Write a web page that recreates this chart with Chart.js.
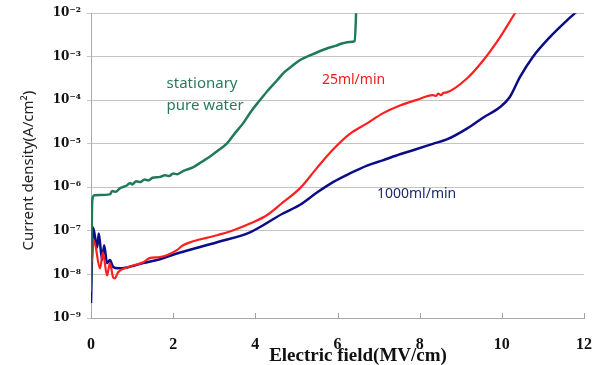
<!DOCTYPE html>
<html>
<head>
<meta charset="utf-8">
<script src="https://cdn.jsdelivr.net/npm/chart.js@4"></script>
<style>
  html, body { margin: 0; padding: 0; background: #fff; }
  #wrap { width: 608px; height: 365px; }
</style>
</head>
<body>
<div id="wrap"><canvas id="chart" width="608" height="365"></canvas></div>
<script>
// Electric field (MV/cm) vs current density (A/cm^2)
const xTicks = [0, 2, 4, 6, 8, 10, 12];
const yTicks = [1e-9, 1e-8, 1e-7, 1e-6, 1e-5, 1e-4, 1e-3, 1e-2];
const yTickLabels = ['10⁻⁹', '10⁻⁸', '10⁻⁷', '10⁻⁶', '10⁻⁵', '10⁻⁴', '10⁻³', '10⁻²'];
const xTitle = 'Electric field(MV/cm)';
const yTitle = 'Current density(A/cm²)';

const stationaryX = [0.00, 0.03, 0.08, 0.46, 0.52, 0.60, 0.70, 0.88, 0.95, 1.00, 1.10, 1.20, 1.30, 1.40, 1.50,
    1.68, 1.80, 1.90, 2.00, 2.10, 2.25, 2.48, 2.70, 2.90, 3.10, 3.31, 3.50, 3.70, 3.90, 4.11, 4.30, 4.53,
    4.70, 4.91, 5.10, 5.33, 5.55, 5.74, 5.95, 6.13, 6.30, 6.42, 6.47];
const stationaryY = [4.0e-9, 5.0e-7, 6.6e-7, 6.9e-7, 8.3e-7, 7.9e-7, 9.5e-7, 1.12e-6, 1.26e-6, 1.17e-6, 1.38e-6,
    1.32e-6, 1.51e-6, 1.45e-6, 1.66e-6, 1.74e-6, 1.91e-6, 1.82e-6, 2.09e-6, 2.0e-6, 2.4e-6, 2.88e-6, 3.89e-6,
    5.13e-6, 7.08e-6, 1.02e-5, 1.74e-5, 2.95e-5, 5.62e-5, 1.0e-4, 1.66e-4, 2.88e-4, 4.37e-4, 6.31e-4, 8.51e-4,
    1.07e-3, 1.32e-3, 1.55e-3, 1.78e-3, 2.04e-3, 2.19e-3, 2.29e-3, 3.16e-2];

const flow25X = [0.02, 0.07, 0.22, 0.29, 0.39, 0.46, 0.54, 0.58, 0.66, 0.88, 1.27, 1.44, 1.68, 2.09, 2.24, 3.07,
    3.45, 3.87, 4.28, 4.67, 5.09, 5.50, 5.89, 6.30, 6.72, 7.10, 7.52, 7.93, 8.32, 8.40, 8.45, 8.52, 8.58, 8.66,
    9.15, 9.54, 9.95, 10.32, 10.6];
const flow25Y = [2.0e-8, 6.0e-8, 1.38e-8, 3.24e-8, 9.5e-9, 1.82e-8, 8.5e-9, 8.1e-9, 1.12e-8, 1.45e-8, 1.91e-8,
    2.4e-8, 2.51e-8, 3.63e-8, 4.68e-8, 7.94e-8, 1.02e-7, 1.48e-7, 2.29e-7, 4.5e-7, 9.6e-7, 2.8e-6, 7.4e-6,
    1.7e-5, 2.95e-5, 5.01e-5, 7.59e-5, 1.02e-4, 1.32e-4, 1.26e-4, 1.42e-4, 1.32e-4, 1.48e-4, 1.52e-4, 3.16e-4,
    8.1e-4, 2.75e-3, 1.0e-2, 2.5e-2];

const flow1000X = [0.00, 0.05, 0.15, 0.19, 0.27, 0.32, 0.39, 0.46, 0.54, 0.66, 0.88, 1.27, 1.68, 2.09, 3.07,
    3.87, 4.67, 5.09, 5.50, 5.89, 6.30, 6.72, 7.10, 7.52, 7.93, 8.32, 8.66, 9.15, 9.54, 9.95, 10.19, 10.44,
    10.75, 11.17, 11.58, 11.78, 12.0];
const flow1000Y = [2.2e-9, 1.2e-7, 4.17e-8, 8.7e-8, 2.14e-8, 4.68e-8, 1.82e-8, 2.14e-8, 1.48e-8, 1.38e-8,
    1.45e-8, 1.82e-8, 2.24e-8, 3.02e-8, 5.5e-8, 9.3e-8, 2.51e-7, 3.98e-7, 7.6e-7, 1.32e-6, 2.09e-6, 3.16e-6,
    4.17e-6, 5.75e-6, 7.59e-6, 1.0e-5, 1.26e-5, 2.24e-5, 3.98e-5, 6.92e-5, 1.17e-4, 3.39e-4, 9.77e-4, 2.82e-3,
    6.76e-3, 1.0e-2, 1.58e-2];

const seriesLabels = ['stationary', 'pure water', '25ml/min', '1000ml/min'];
const seriesColors = { stationary: '#1f7a58', flow25: '#ff1f1f', flow1000: '#0c0c86' };

function toPoints(xs, ys) {
    return xs.map((x, i) => ({ x: x, y: ys[i] }));
}

// curve labels, placed in data space
const curveNotes = [
    { text: seriesLabels[0], x: 1.84, y: 2.45e-4, color: '#2a7a5c', size: 15 },
    { text: seriesLabels[1], x: 1.84, y: 7.6e-5, color: '#2a7a5c', size: 15 },
    { text: seriesLabels[2], x: 5.62, y: 2.9e-4, color: '#f01c1c', size: 14 },
    { text: seriesLabels[3], x: 6.96, y: 7.2e-7, color: '#1c2a6e', size: 14 },
];

const notesPlugin = {
    id: 'notes',
    afterDatasetsDraw(chart) {
        const ctx = chart.ctx;
        const xs = chart.scales.x, ys = chart.scales.y;
        const area = chart.chartArea;
        ctx.save();
        // short inner tick marks on the x axis
        ctx.strokeStyle = '#a0a0a0';
        ctx.lineWidth = 1;
        xTicks.forEach(v => {
            const px = Math.round(xs.getPixelForValue(v)) + 0.5;
            ctx.beginPath();
            ctx.moveTo(px, area.bottom);
            ctx.lineTo(px, area.bottom - 5);
            ctx.stroke();
        });
        ctx.textAlign = 'left';
        ctx.textBaseline = 'middle';
        curveNotes.forEach(n => {
            ctx.font = n.size + 'px "Noto Sans", sans-serif';
            ctx.fillStyle = n.color;
            ctx.fillText(n.text, xs.getPixelForValue(n.x), ys.getPixelForValue(n.y));
        });
        // axis titles (the original sits a little off-centre)
        ctx.fillStyle = '#111';
        ctx.textAlign = 'center';
        ctx.font = 'bold 19px "Liberation Serif", serif';
        ctx.fillText(xTitle, xs.getPixelForValue(6.5), area.bottom + 38);
        ctx.translate(29, (area.top + area.bottom) / 2 + 5);
        ctx.rotate(-Math.PI / 2);
        ctx.fillStyle = '#222';
        ctx.font = '15px "Noto Sans", sans-serif';
        ctx.fillText(yTitle, 0, 0);
        ctx.restore();
    }
};

new Chart(document.getElementById('chart'), {
    type: 'line',
    plugins: [notesPlugin],
    data: {
        datasets: [
            { label: 'stationary pure water', data: toPoints(stationaryX, stationaryY), borderColor: seriesColors.stationary, borderWidth: 2.5 },
            { label: '25ml/min', data: toPoints(flow25X, flow25Y), borderColor: seriesColors.flow25, borderWidth: 2.2 },
            { label: '1000ml/min', data: toPoints(flow1000X, flow1000Y), borderColor: seriesColors.flow1000, borderWidth: 2.5 },
        ]
    },
    options: {
        responsive: false,
        animation: false,
        parsing: false,
        events: [],
        elements: {
            point: { radius: 0 },
            line: { cubicInterpolationMode: 'monotone', fill: false }
        },
        layout: { padding: { top: 13, right: 24, left: 0, bottom: 0 } },
        plugins: {
            legend: { display: false },
            tooltip: { enabled: false }
        },
        scales: {
            x: {
                type: 'linear',
                min: 0,
                max: 12,
                afterBuildTicks: (scale) => { scale.ticks = xTicks.map(v => ({ value: v })); },
                afterFit: (scale) => { scale.height = 47; },
                grid: { display: false },
                border: { display: true, color: '#a8a8a8', width: 1 },
                ticks: {
                    padding: 9,
                    color: '#111',
                    font: { family: '"Liberation Serif", serif', size: 16, weight: 'bold' }
                },
                title: { display: false }
            },
            y: {
                type: 'logarithmic',
                min: 1e-9,
                max: 1e-2,
                afterBuildTicks: (scale) => { scale.ticks = yTicks.map(v => ({ value: v })); },
                afterFit: (scale) => { scale.width = 91; },
                grid: { color: '#c4c4c4', lineWidth: 1, tickLength: 4 },
                border: { display: true, color: '#a8a8a8', width: 1 },
                ticks: {
                    padding: 6,
                    color: '#111',
                    font: { family: '"DejaVu Serif", serif', size: 12, weight: 'bold' },
                    callback: (value) => {
                        const i = yTicks.findIndex(t => Math.abs(Math.log10(t) - Math.log10(value)) < 1e-6);
                        return i >= 0 ? yTickLabels[i] : '';
                    }
                },
                title: { display: false }
            }
        }
    }
});
</script>
</body>
</html>
